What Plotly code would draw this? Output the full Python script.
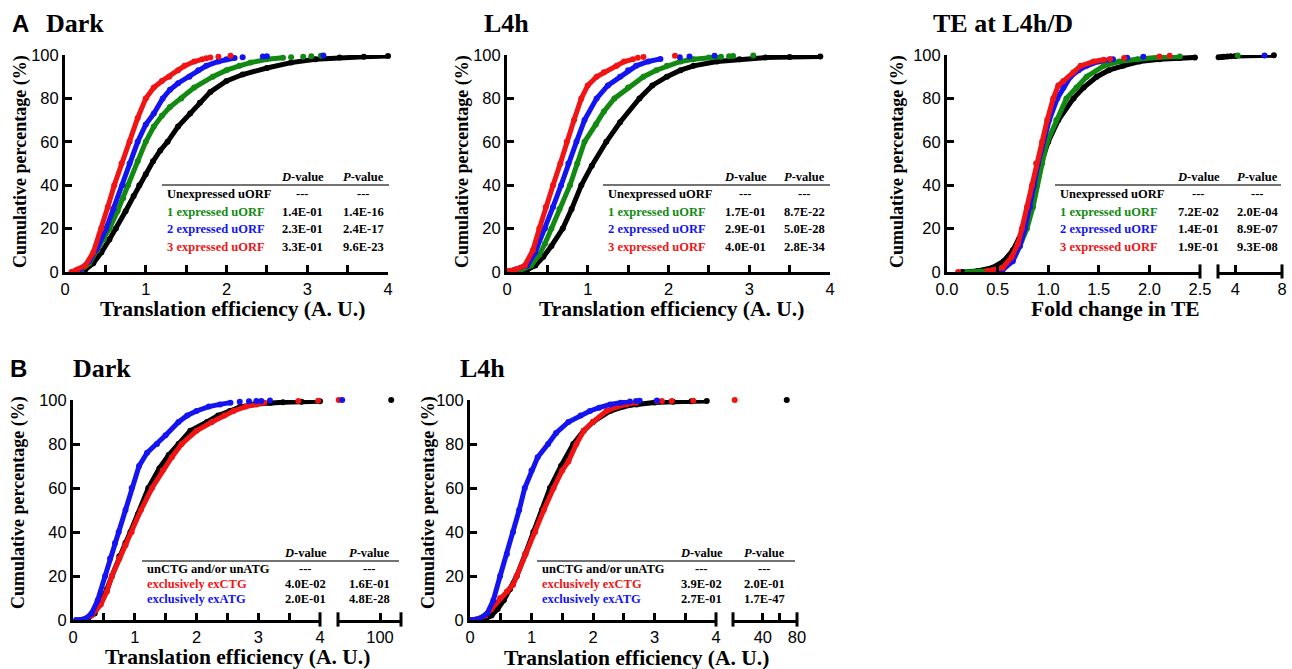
import plotly.graph_objects as go

W, H = 1292, 669
def fx(px): return px / W
def fy(py): return 1 - py / H

BLACK, GREEN, BLUE, RED = "#000000", "#128a12", "#1414f0", "#f01414"

# ---------------- Panel A, Dark (TE, A.U.) ----------------
aD_unexp_x = [0.10,0.25,0.35,0.45,0.55,0.63,0.75,0.85,0.92,1.00,1.09,1.18,1.27,1.40,1.55,1.67,1.80,2.00,2.20,2.50,2.80,3.10,3.40,3.70,4.00]
aD_unexp_y = [0,1,4,9,15,20,28,35,40,45,51,56,60,67,73,78,83,88,91,94,96.5,98,98.8,99.2,99.5]
aD_one_x = [0.10,0.20,0.30,0.40,0.48,0.55,0.65,0.72,0.78,0.90,1.00,1.10,1.20,1.30,1.44,1.60,1.83,2.00,2.16,2.30,2.50,2.70]
aD_one_y = [0,1,4,10,15,20,28,34,40,51,60,67,72,76,80,85,90,93,95,96.5,98,98.7]
aD_one_tx = [2.80,2.95,3.05,3.17]
aD_one_ty = [99.0,99.2,99.4,99.6]
aD_two_x = [0.10,0.20,0.30,0.40,0.51,0.60,0.71,0.80,0.90,1.00,1.10,1.21,1.30,1.40,1.54,1.65,1.75,1.90,2.00,2.10]
aD_two_y = [0,1.5,5,11,20,29,40,50,60,68,73,80,84,87,90,93,95,97,98,98.6]
aD_two_tx = [2.20,2.45,2.50,3.20]
aD_two_ty = [99.0,99.3,99.4,99.8]
aD_three_x = [0.08,0.15,0.25,0.35,0.45,0.53,0.61,0.70,0.80,0.90,1.00,1.10,1.20,1.29,1.40,1.48,1.60,1.70]
aD_three_y = [0,1,3,9,20,30,40,50,60,71,80,85,88,90,93,95,97,98]
aD_three_tx = [1.75,1.80,1.90,2.05]
aD_three_ty = [98.5,98.8,99.2,99.6]

# ---------------- Panel A, L4h ----------------
aL_unexp_x = [0.10,0.25,0.35,0.45,0.55,0.69,0.80,0.92,1.05,1.23,1.40,1.64,1.80,1.98,2.15,2.31,2.60,2.88,3.20,3.50,3.88]
aL_unexp_y = [0,1,3,7,12,20,29,40,49,60,69,80,86,90,93,95,97,98,98.8,99.1,99.3]
aL_one_x = [0.05,0.15,0.30,0.40,0.47,0.55,0.65,0.78,0.87,0.96,1.10,1.20,1.33,1.50,1.69,1.85,1.98,2.15,2.31,2.50,2.65]
aL_one_y = [0,0.5,3,8,13,20,29,40,50,60,68,74,80,85,90,93,95,97,98,98.8,99.2]
aL_one_tx = [2.75,2.80,3.05]
aL_one_ty = [99.4,99.5,99.8]
aL_two_x = [0.00,0.10,0.25,0.35,0.47,0.57,0.67,0.76,0.86,0.96,1.11,1.25,1.40,1.50,1.60,1.75,1.90]
aL_two_y = [0,1,3,9,20,30,40,50,60,70,80,86,90,93,95,97,98.2]
aL_two_tx = [2.14,2.26,2.57]
aL_two_ty = [99.0,99.3,99.7]
aL_three_x = [0.00,0.10,0.22,0.32,0.40,0.48,0.57,0.66,0.74,0.83,0.92,1.00,1.11,1.20,1.36,1.45,1.56]
aL_three_y = [0.5,1,3,10,20,30,40,50,60,70,80,86,90,92,95,97,98]
aL_three_tx = [1.62,1.69,2.08]
aL_three_ty = [98.7,99.1,99.7]

# ---------------- Panel A, TE at L4h/D (fold change) ----------------
aT_unexp_x = [0.15,0.30,0.45,0.56,0.65,0.71,0.76,0.82,0.87,0.93,1.00,1.10,1.25,1.35,1.48,1.60,1.74,1.90,2.10,2.30,2.45]
aT_unexp_y = [0,0.5,2,5,10,15,20,30,40,50,60,70,80,85,90,93,95,97,98,98.6,98.9]
aT_unexp_bx = [2.55,2.80,3.00,3.30,3.60,4.00,7.30]
aT_unexp_by = [99.0,99.1,99.2,99.3,99.4,99.5,99.9]
aT_one_x = [0.20,0.40,0.55,0.65,0.72,0.79,0.85,0.89,0.94,0.99,1.08,1.18,1.28,1.38,1.55,1.70,1.88,2.10,2.30]
aT_one_y = [0,0.5,2,6,12,20,30,40,50,60,70,80,85,90,95,97,98,99,99.3]
aT_one_bx = [4.20]
aT_one_by = [99.8]
aT_two_x = [0.45,0.55,0.65,0.72,0.77,0.82,0.86,0.90,0.95,1.01,1.09,1.15,1.22,1.30,1.38,1.50,1.64]
aT_two_y = [0,1,5,12,20,30,40,50,60,70,80,85,90,93,95,97,98]
aT_two_tx = [1.78,1.94]
aT_two_ty = [98.7,99.2]
aT_two_bx = [6.50]
aT_two_by = [99.8]
aT_three_x = [0.40,0.55,0.64,0.70,0.74,0.79,0.84,0.88,0.94,0.99,1.05,1.10,1.15,1.25,1.32,1.45,1.55]
aT_three_y = [0.5,2,7,13,20,30,40,50,60,70,80,86,88,92,95,97,97.8]
aT_three_tx = [0.11,1.61,1.75,2.10,2.20]
aT_three_ty = [0,98.2,98.6,99.3,99.6]

# ---------------- Panel B, Dark ----------------
bD_unexp_x = [0.15,0.25,0.35,0.45,0.55,0.63,0.75,0.85,0.93,1.05,1.22,1.40,1.55,1.71,1.90,2.17,2.35,2.54,2.70,2.92,3.20,3.40,3.70,4.00]
bD_unexp_y = [0,1,3,8,14,20,29,35,40,48,60,69,75,80,86,90,93,95,96.8,98,98.8,99,99.2,99.4]
bD_unexp_bx = [116]
bD_unexp_by = [100]
bD_ctg_x = [0.12,0.30,0.45,0.55,0.63,0.75,0.85,0.95,1.10,1.28,1.45,1.60,1.76,2.00,2.25,2.45,2.60,2.80,2.97,3.10]
bD_ctg_y = [0,2,7,13,20,28,34,40,50,60,68,74,80,86,90,93,95,97,98,98.8]
bD_ctg_tx = [3.65,3.97]
bD_ctg_ty = [99.5,99.7]
bD_ctg_bx = [41]
bD_ctg_by = [100]
bD_atg_x = [0.05,0.20,0.30,0.40,0.52,0.60,0.68,0.74,0.85,0.95,1.07,1.20,1.36,1.50,1.71,1.85,2.00,2.20,2.38,2.55]
bD_atg_y = [0,0.5,3,9,20,28,35,40,50,60,70,76,80,84,90,93,95,97,98,98.8]
bD_atg_tx = [2.70,2.85,2.97,3.05,3.19]
bD_atg_ty = [99.2,99.4,99.5,99.6,99.8]
bD_atg_bx = [46]
bD_atg_by = [100]

# ---------------- Panel B, L4h ----------------
bL_unexp_x = [0.10,0.25,0.35,0.45,0.55,0.65,0.76,0.90,1.03,1.17,1.30,1.48,1.68,1.85,2.00,2.28,2.50,2.71,3.00,3.30,3.60,3.85]
bL_unexp_y = [0,0.5,2,5,9,14,20,30,40,50,60,70,80,86,90,95,97,98,98.9,99.2,99.4,99.5]
bL_unexp_bx = [68]
bL_unexp_by = [100]
bL_ctg_x = [0.00,0.10,0.25,0.35,0.49,0.60,0.70,0.76,0.90,1.06,1.20,1.36,1.50,1.60,1.73,1.85,2.00,2.22,2.40,2.55,2.70]
bL_ctg_y = [0,0.3,2,5,10,13,16,20,30,40,50,60,68,72,80,86,90,95,97,98,98.8]
bL_ctg_tx = [3.04,3.12,3.28,3.63]
bL_ctg_ty = [99.5,99.5,99.6,99.7]
bL_ctg_bx = [7]
bL_ctg_by = [100]
bL_atg_x = [0.00,0.15,0.28,0.38,0.49,0.60,0.70,0.80,0.89,1.00,1.10,1.27,1.40,1.60,1.80,1.95,2.10,2.28,2.45,2.60]
bL_atg_y = [0,0.5,3,9,20,30,40,50,60,68,74,80,85,90,93,95,96.5,98,98.8,99.3]
bL_atg_tx = [2.70,2.76,3.04]
bL_atg_ty = [99.6,99.7,99.8]

# ---------------- Tables ----------------
a_rows = ["Unexpressed uORF", "1 expressed uORF", "2 expressed uORF", "3 expressed uORF"]
a_row_colors = [BLACK, GREEN, BLUE, RED]
aD_d = ["---", "1.4E-01", "2.3E-01", "3.3E-01"]
aD_p = ["---", "1.4E-16", "2.4E-17", "9.6E-23"]
aL_d = ["---", "1.7E-01", "2.9E-01", "4.0E-01"]
aL_p = ["---", "8.7E-22", "5.0E-28", "2.8E-34"]
aT_d = ["---", "7.2E-02", "1.4E-01", "1.9E-01"]
aT_p = ["---", "2.0E-04", "8.9E-07", "9.3E-08"]
b_rows = ["unCTG and/or unATG", "exclusively exCTG", "exclusively exATG"]
b_row_colors = [BLACK, RED, BLUE]
bD_d = ["---", "4.0E-02", "2.0E-01"]
bD_p = ["---", "1.6E-01", "4.8E-28"]
bL_d = ["---", "3.9E-02", "2.7E-01"]
bL_p = ["---", "2.0E-01", "1.7E-47"]

SANS = "Liberation Sans, Arial, sans-serif"
SERIF = "Liberation Serif, Times New Roman, serif"

fig = go.Figure()

def curve(x, y, color, xa, ya):
    fig.add_trace(go.Scatter(x=x, y=y, mode="lines+markers", xaxis=xa, yaxis=ya,
                             line=dict(color=color, width=5),
                             marker=dict(color=color, size=6),
                             cliponaxis=False, showlegend=False, hoverinfo="x+y"))

def dots(x, y, color, xa, ya):
    fig.add_trace(go.Scatter(x=x, y=y, mode="markers", xaxis=xa, yaxis=ya,
                             marker=dict(color=color, size=6),
                             cliponaxis=False, showlegend=False, hoverinfo="x+y"))

# Panel A Dark
curve(aD_unexp_x, aD_unexp_y, BLACK, "x", "y")
curve(aD_one_x, aD_one_y, GREEN, "x", "y"); dots(aD_one_tx, aD_one_ty, GREEN, "x", "y")
curve(aD_two_x, aD_two_y, BLUE, "x", "y"); dots(aD_two_tx, aD_two_ty, BLUE, "x", "y")
curve(aD_three_x, aD_three_y, RED, "x", "y"); dots(aD_three_tx, aD_three_ty, RED, "x", "y")
# Panel A L4h
curve(aL_unexp_x, aL_unexp_y, BLACK, "x2", "y2")
curve(aL_one_x, aL_one_y, GREEN, "x2", "y2"); dots(aL_one_tx, aL_one_ty, GREEN, "x2", "y2")
curve(aL_two_x, aL_two_y, BLUE, "x2", "y2"); dots(aL_two_tx, aL_two_ty, BLUE, "x2", "y2")
curve(aL_three_x, aL_three_y, RED, "x2", "y2"); dots(aL_three_tx, aL_three_ty, RED, "x2", "y2")
# Panel A TE
curve(aT_unexp_x, aT_unexp_y, BLACK, "x3", "y3"); curve(aT_unexp_bx, aT_unexp_by, BLACK, "x4", "y3")
curve(aT_one_x, aT_one_y, GREEN, "x3", "y3"); dots(aT_one_bx, aT_one_by, GREEN, "x4", "y3")
curve(aT_two_x, aT_two_y, BLUE, "x3", "y3"); dots(aT_two_tx, aT_two_ty, BLUE, "x3", "y3"); dots(aT_two_bx, aT_two_by, BLUE, "x4", "y3")
curve(aT_three_x, aT_three_y, RED, "x3", "y3"); dots(aT_three_tx, aT_three_ty, RED, "x3", "y3")
# Panel B Dark
curve(bD_unexp_x, bD_unexp_y, BLACK, "x5", "y4"); dots(bD_unexp_bx, bD_unexp_by, BLACK, "x6", "y4")
curve(bD_ctg_x, bD_ctg_y, RED, "x5", "y4"); dots(bD_ctg_tx, bD_ctg_ty, RED, "x5", "y4"); dots(bD_ctg_bx, bD_ctg_by, RED, "x6", "y4")
curve(bD_atg_x, bD_atg_y, BLUE, "x5", "y4"); dots(bD_atg_tx, bD_atg_ty, BLUE, "x5", "y4"); dots(bD_atg_bx, bD_atg_by, BLUE, "x6", "y4")
# Panel B L4h
curve(bL_unexp_x, bL_unexp_y, BLACK, "x7", "y5"); dots(bL_unexp_bx, bL_unexp_by, BLACK, "x8", "y5")
curve(bL_ctg_x, bL_ctg_y, RED, "x7", "y5"); dots(bL_ctg_tx, bL_ctg_ty, RED, "x7", "y5"); dots(bL_ctg_bx, bL_ctg_by, RED, "x8", "y5")
curve(bL_atg_x, bL_atg_y, BLUE, "x7", "y5"); dots(bL_atg_tx, bL_atg_ty, BLUE, "x7", "y5")

AX = dict(showline=True, linewidth=3, linecolor="black", ticks="inside", ticklen=7,
          tickwidth=3, tickcolor="black", showgrid=False, zeroline=False, automargin=False,
          tickfont=dict(family=SANS, size=16.5, color="black"))

def xaxis(px0, px1, rng, tv, tt, anchor):
    d = dict(AX); d.update(domain=[fx(px0), fx(px1)], range=rng, tickvals=tv, ticktext=tt, anchor=anchor)
    return d

def yaxis(py_top, py_bot, anchor):
    d = dict(AX); d.update(domain=[fy(py_bot), fy(py_top)], range=[0, 100],
                           tickvals=[0, 20, 40, 60, 80, 100], anchor=anchor)
    return d

half4 = [i * 0.5 for i in range(9)]
half4_t = ["0", "", "1", "", "2", "", "3", "", "4"]
te_v = [0, 0.5, 1.0, 1.5, 2.0, 2.5]
te_t = ["0.0", "0.5", "1.0", "1.5", "2.0", "2.5"]

fig.update_layout(
    width=W, height=H, margin=dict(l=0, r=0, t=0, b=0, autoexpand=False),
    paper_bgcolor="white", plot_bgcolor="white", showlegend=False,
    xaxis=xaxis(65, 388, [0, 4], half4, half4_t, "y"),
    yaxis=yaxis(55, 272, "x"),
    xaxis2=xaxis(507, 830, [0, 4], half4, half4_t, "y2"),
    yaxis2=yaxis(55, 272, "x2"),
    xaxis3=xaxis(947, 1200, [0, 2.5], te_v, te_t, "y3"),
    xaxis4=xaxis(1218, 1282, [2.5, 8], [4, 8], ["4", "8"], "y3"),
    yaxis3=yaxis(55, 272, "x3"),
    xaxis5=xaxis(73, 320, [0, 4], half4, half4_t, "y4"),
    xaxis6=xaxis(338, 401, [40, 130], [100], ["100"], "y4"),
    yaxis4=yaxis(400, 620, "x5"),
    xaxis7=xaxis(470, 716, [0, 4], half4, half4_t, "y5"),
    xaxis8=xaxis(733, 797, [5, 80], [40, 60, 80], ["40", "", "80"], "y5"),
    yaxis5=yaxis(400, 620, "x7"),
)

shapes = []
# break caps on broken axes
for xa, ya, ends in [("x3", "y3", [1]), ("x4", "y3", [0, 1]),
                     ("x5", "y4", [1]), ("x6", "y4", [0, 1]),
                     ("x7", "y5", [1]), ("x8", "y5", [0, 1])]:
    for e in ends:
        shapes.append(dict(type="line", xref=f"{xa} domain", yref=f"{ya} domain",
                           x0=e, x1=e, y0=-0.03, y1=0.035, line=dict(color="black", width=3)))

ann = []
def text(px, py, s, size, family=SERIF, color="black", xanchor="left", bold=True, angle=0):
    ann.append(dict(xref="paper", yref="paper", x=fx(px), y=fy(py), text=(f"<b>{s}</b>" if bold else s),
                    showarrow=False, xanchor=xanchor, yanchor="middle", textangle=angle,
                    borderpad=0, font=dict(family=family, size=size, color=color)))

def table(x_left, x_right, line_y, rows, colors, dvals, pvals, d_cx, p_cx, row_ys, size):
    shapes.append(dict(type="line", xref="paper", yref="paper", x0=fx(x_left), x1=fx(x_right),
                       y0=fy(line_y), y1=fy(line_y), line=dict(color="#444444", width=1.5)))
    text(d_cx, line_y - 8, "<i>D</i>-value", size, xanchor="center")
    text(p_cx, line_y - 8, "<i>P</i>-value", size, xanchor="center")
    for r, c, d, p, yy in zip(rows, colors, dvals, pvals, row_ys):
        text(x_left + 4, yy, r, size, color=c)
        text(d_cx, yy, d, size, xanchor="center")
        text(p_cx, yy, p, size, xanchor="center")

a_row_y = [194, 212, 229, 247]
table(162, 389, 185, a_rows, a_row_colors, aD_d, aD_p, 302, 363, a_row_y, 12.5)
table(603, 830, 185, a_rows, a_row_colors, aL_d, aL_p, 745, 804, a_row_y, 12.5)
table(1055, 1281, 185, a_rows, a_row_colors, aT_d, aT_p, 1198, 1257, a_row_y, 12.5)
b_row_y = [569, 584, 599]
table(142, 399, 561, b_rows, b_row_colors, bD_d, bD_p, 305, 369, b_row_y, 12.5)
table(537, 795, 561, b_rows, b_row_colors, bL_d, bL_p, 701, 765, b_row_y, 12.5)

# panel letters & titles
text(11, 23, "A", 24, family=SANS)
text(45, 23, "Dark", 26)
text(483, 23, "L4h", 26)
text(932, 23, "TE at L4h/D", 26)
text(9, 368, "B", 24, family=SANS)
text(72, 368, "Dark", 26)
text(459, 368, "L4h", 26)

# axis titles
text(232, 309, "Translation efficiency (A. U.)", 21.5, xanchor="center")
text(671, 309, "Translation efficiency (A. U.)", 21.5, xanchor="center")
text(1115, 309, "Fold change in TE", 21.5, xanchor="center")
text(237, 657, "Translation efficiency (A. U.)", 21.5, xanchor="center")
text(636, 658, "Translation efficiency (A. U.)", 21.5, xanchor="center")
text(20, 162, "Cumulative percentage (%)", 18, xanchor="center", angle=-90)
text(462, 162, "Cumulative percentage (%)", 18, xanchor="center", angle=-90)
text(897, 162, "Cumulative percentage (%)", 18, xanchor="center", angle=-90)
text(18, 503, "Cumulative percentage (%)", 18, xanchor="center", angle=-90)
text(428, 503, "Cumulative percentage (%)", 18, xanchor="center", angle=-90)

fig.update_layout(shapes=shapes, annotations=ann)
fig.write_html("out.html", config={"displayModeBar": False},
               post_script="document.body.style.margin='0';document.body.style.padding='0';document.body.style.overflow='hidden';")
